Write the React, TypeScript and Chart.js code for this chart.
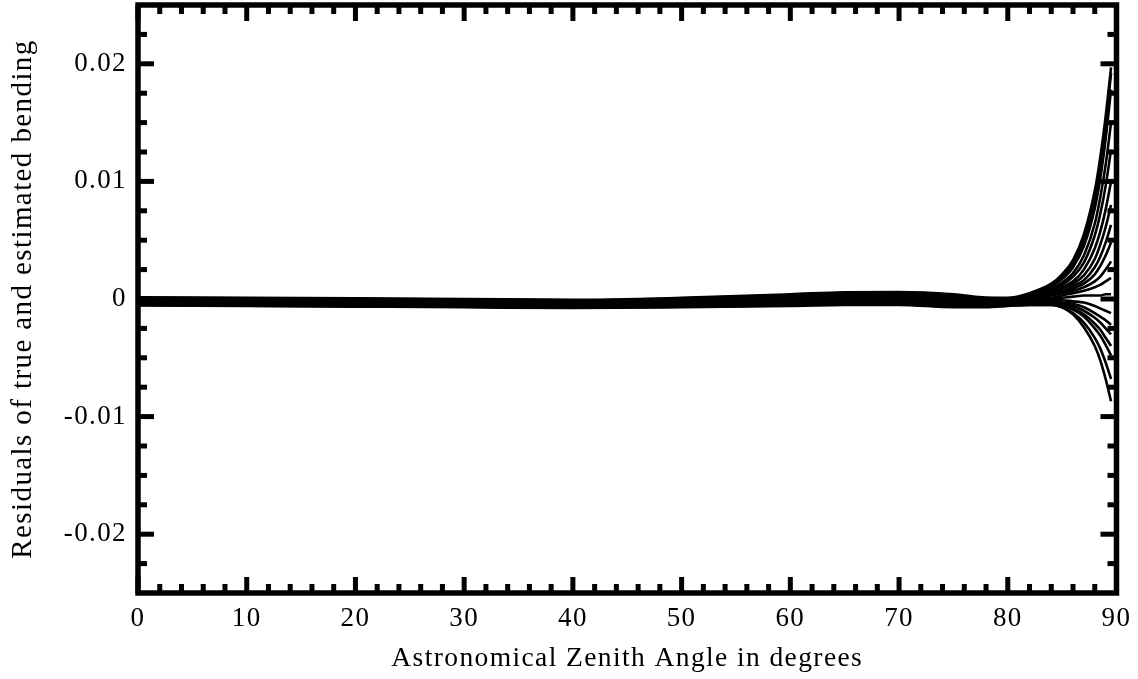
import { useEffect, useRef } from 'react';
import { Chart, registerables } from 'chart.js';

Chart.register(...registerables);

// Zenith angles (degrees) at which the residual curves are sampled
const ANGLES = [0, 10, 20, 30, 40, 50, 60, 65, 70, 75, 78, 80, 82, 84, 85, 86, 87, 88, 88.5, 89, 89.5];

// Residual curves (true minus estimated bending)
const S01 = [0.00015, 0.0001, 0.00005, 0, -0.00007, 0.0001, 0.0004, 0.00058, 0.0006, 0.0004, 0.00012, 0.0001, 0.0005, 0.0013, 0.0021, 0.0033, 0.0055, 0.0092, 0.012, 0.0155, 0.0197];
const S02 = [0.00011, 0.00006, 0.00001, -0.00004, -0.00011, 0.00006, 0.00034, 0.00052, 0.00054, 0.00034, 0.00007, 0.00006, 0.0004, 0.0012, 0.0019, 0.003, 0.005, 0.0085, 0.0112, 0.0148, 0.0192];
const S03 = [0.00007, 0.00002, -0.00003, -0.00008, -0.00015, 0.00001, 0.00029, 0.00046, 0.00048, 0.00028, 0.00002, 0.00002, 0.0004, 0.0011, 0.0017, 0.0027, 0.0045, 0.0077, 0.0102, 0.0136, 0.0178];
const S04 = [0.00003, -0.00002, -0.00007, -0.00012, -0.00019, -0.00003, 0.00023, 0.0004, 0.00042, 0.00022, -0.00003, -0.00002, 0.0003, 0.0009, 0.0014, 0.0022, 0.0037, 0.0064, 0.0086, 0.0114, 0.015];
const S05 = [-0.00001, -0.00006, -0.00011, -0.00016, -0.00023, -0.00008, 0.00018, 0.00034, 0.00036, 0.00016, -0.00007, -0.00006, 0.0003, 0.0008, 0.0012, 0.0019, 0.0031, 0.0054, 0.0072, 0.0096, 0.0127];
const S06 = [-0.00004, -0.00009, -0.00014, -0.00019, -0.00026, -0.00012, 0.00012, 0.00027, 0.00029, 0.00009, -0.00011, -0.00009, 0.0002, 0.0007, 0.001, 0.0015, 0.0025, 0.0043, 0.0057, 0.0076, 0.01];
const S07 = [-0.00008, -0.00013, -0.00018, -0.00023, -0.0003, -0.00017, 0.00007, 0.00021, 0.00023, 0.00003, -0.00015, -0.00013, 0.0002, 0.0006, 0.0009, 0.0013, 0.002, 0.0034, 0.0046, 0.0061, 0.008];
const S08 = [-0.00012, -0.00017, -0.00022, -0.00027, -0.00034, -0.00021, 0.00001, 0.00015, 0.00017, -0.00003, -0.00019, -0.00017, 0.0001, 0.0005, 0.0007, 0.0011, 0.0016, 0.0027, 0.0036, 0.0048, 0.0063];
const S09 = [-0.00016, -0.00021, -0.00026, -0.00031, -0.00038, -0.00026, -0.00004, 0.00009, 0.00011, -0.00009, -0.00023, -0.00021, 0.0001, 0.0004, 0.0006, 0.0009, 0.0013, 0.0021, 0.0028, 0.0037, 0.0048];
const S10 = [-0.0002, -0.00025, -0.0003, -0.00035, -0.00042, -0.0003, -0.0001, 0.00003, 0.00005, -0.00015, -0.00027, -0.00025, 0, 0.0003, 0.0005, 0.0007, 0.001, 0.0015, 0.0019, 0.0025, 0.0032];
const S11 = [-0.00024, -0.00029, -0.00034, -0.00039, -0.00046, -0.00034, -0.00016, -0.00003, -0.00001, -0.00021, -0.00031, -0.00029, -0.0001, 0.0001, 0.0003, 0.0005, 0.0007, 0.001, 0.0012, 0.0015, 0.0018];
const S12 = [-0.00028, -0.00033, -0.00038, -0.00043, -0.0005, -0.00039, -0.00021, -0.00009, -0.00007, -0.00027, -0.00035, -0.00033, -0.0002, 0, 0.0001, 0.0002, 0.0003, 0.0003, 0.0003, 0.0004, 0.0004];
const S13 = [-0.00032, -0.00037, -0.00042, -0.00047, -0.00054, -0.00043, -0.00027, -0.00015, -0.00013, -0.00033, -0.00039, -0.00037, -0.0003, -0.0001, -0.0001, -0.0002, -0.0003, -0.0006, -0.0008, -0.001, -0.0012];
const S14 = [-0.00036, -0.00041, -0.00046, -0.00051, -0.00058, -0.00048, -0.00032, -0.00021, -0.00019, -0.00039, -0.00043, -0.00041, -0.0003, -0.0002, -0.0003, -0.0004, -0.0007, -0.0012, -0.0015, -0.0018, -0.0022];
const S15 = [-0.0004, -0.00045, -0.0005, -0.00055, -0.00062, -0.00052, -0.00038, -0.00028, -0.00026, -0.00046, -0.00048, -0.00045, -0.0004, -0.0003, -0.0004, -0.0006, -0.001, -0.0016, -0.002, -0.0025, -0.003];
const S16 = [-0.00043, -0.00048, -0.00053, -0.00058, -0.00065, -0.00057, -0.00043, -0.00034, -0.00032, -0.00052, -0.00053, -0.00048, -0.0004, -0.0004, -0.0005, -0.0008, -0.0013, -0.0021, -0.0026, -0.0033, -0.004];
const S17 = [-0.00047, -0.00052, -0.00057, -0.00062, -0.00069, -0.00061, -0.00049, -0.0004, -0.00038, -0.00058, -0.00058, -0.00052, -0.0004, -0.0004, -0.0006, -0.0009, -0.0015, -0.0025, -0.0031, -0.0039, -0.0048];
const S18 = [-0.00051, -0.00056, -0.00061, -0.00066, -0.00073, -0.00066, -0.00054, -0.00046, -0.00044, -0.00064, -0.00064, -0.00056, -0.0005, -0.0005, -0.0007, -0.0012, -0.002, -0.0033, -0.0042, -0.0054, -0.0068];
const S19 = [-0.00055, -0.0006, -0.00065, -0.0007, -0.00077, -0.0007, -0.0006, -0.0005, -0.0005, -0.0007, -0.0007, -0.0006, -0.0005, -0.0005, -0.0007, -0.0013, -0.0024, -0.004, -0.0052, -0.0068, -0.0087];

const SERIES = [S01, S02, S03, S04, S05, S06, S07, S08, S09, S10, S11, S12, S13, S14, S15, S16, S17, S18, S19];

// Axes
const X_MIN = 0;
const X_MAX = 90;
const Y_MIN = -0.025;
const Y_MAX = 0.025;
const X_TICKS = [0, 10, 20, 30, 40, 50, 60, 70, 80, 90];
const X_MINOR = [2, 4, 6, 8, 12, 14, 16, 18, 22, 24, 26, 28, 32, 34, 36, 38, 42, 44, 46, 48, 52, 54, 56, 58, 62, 64, 66, 68, 72, 74, 76, 78, 82, 84, 86, 88];
const Y_TICKS = [0.02, 0.01, 0, -0.01, -0.02];
const Y_TICK_LABELS = ['0.02', '0.01', '0', '-0.01', '-0.02'];
const Y_MINOR = [0.0225, 0.0175, 0.015, 0.0125, 0.0075, 0.005, 0.0025, -0.0025, -0.005, -0.0075, -0.0125, -0.015, -0.0175, -0.0225];
const X_TITLE = 'Astronomical Zenith Angle in degrees';
const Y_TITLE = 'Residuals of true and estimated bending';

const FONT = "'Liberation Serif', 'Times New Roman', serif";
const FONT_SIZE = 27;
const LETTER_SPACING = '1.4px';

const spacingPlugin = {
  id: 'letterSpacing',
  beforeUpdate(chart: any) {
    chart.ctx.letterSpacing = LETTER_SPACING;
  },
  beforeDraw(chart: any) {
    chart.ctx.letterSpacing = LETTER_SPACING;
  },
};

const framePlugin = {
  id: 'frameTicks',
  afterDatasetsDraw(chart: any) {
    const { ctx, chartArea, scales } = chart;
    const { left, right, top, bottom } = chartArea;
    const xs = scales.x;
    const ys = scales.y;
    const TW = 5;
    const MAJ = 16;
    const MIN = 9;
    ctx.save();
    ctx.fillStyle = '#000';
    const xTick = (v: number, len: number) => {
      const px = xs.getPixelForValue(v);
      ctx.fillRect(px - TW / 2, bottom - len, TW, len);
      ctx.fillRect(px - TW / 2, top, TW, len);
    };
    const yTick = (v: number, len: number) => {
      const py = ys.getPixelForValue(v);
      ctx.fillRect(left, py - TW / 2, len, TW);
      ctx.fillRect(right - len, py - TW / 2, len, TW);
    };
    X_TICKS.forEach((v) => xTick(v, MAJ));
    X_MINOR.forEach((v) => xTick(v, MIN));
    Y_TICKS.forEach((v) => yTick(v, MAJ));
    Y_MINOR.forEach((v) => yTick(v, MIN));
    ctx.strokeStyle = '#000';
    ctx.lineWidth = 5.5;
    ctx.strokeRect(left, top, right - left, bottom - top);
    ctx.restore();
  },
};

export default function App() {
  const canvasRef = useRef<HTMLCanvasElement | null>(null);

  useEffect(() => {
    const canvas = canvasRef.current;
    if (!canvas) return;
    const datasets = SERIES.map((s) => ({
      data: ANGLES.map((a, i) => ({ x: a, y: s[i] })),
      borderColor: '#000',
      borderWidth: 2.6,
      pointRadius: 0,
      fill: false,
      cubicInterpolationMode: 'monotone' as const,
    }));
    const chart = new Chart(canvas, {
      type: 'line',
      data: { datasets },
      plugins: [spacingPlugin, framePlugin],
      options: {
        animation: false,
        responsive: false,
        maintainAspectRatio: false,
        layout: { padding: { top: 5, right: 21.5, bottom: 0, left: 0 } },
        plugins: { legend: { display: false }, tooltip: { enabled: false } },
        scales: {
          x: {
            type: 'linear',
            min: X_MIN,
            max: X_MAX,
            afterFit: (s: any) => {
              s.height = 86;
              s.paddingLeft = 0;
              s.paddingRight = 0;
            },
            afterBuildTicks: (s: any) => {
              s.ticks = X_TICKS.map((v) => ({ value: v }));
            },
            grid: { display: false, drawTicks: false },
            border: { display: false },
            ticks: {
              padding: 10,
              color: '#000',
              maxRotation: 0,
              autoSkip: false,
              font: { family: FONT, size: FONT_SIZE },
              callback: (v: any) => String(v),
            },
            title: {
              display: true,
              text: X_TITLE,
              color: '#000',
              font: { family: FONT, size: 27.5 },
              padding: { top: 0, bottom: 4 },
            },
          },
          y: {
            type: 'linear',
            min: Y_MIN,
            max: Y_MAX,
            afterFit: (s: any) => {
              s.width = 138;
              s.paddingTop = 0;
              s.paddingBottom = 0;
            },
            afterBuildTicks: (s: any) => {
              s.ticks = Y_TICKS.map((v) => ({ value: v }));
            },
            grid: { display: false, drawTicks: false },
            border: { display: false },
            ticks: {
              padding: 11,
              color: '#000',
              autoSkip: false,
              font: { family: FONT, size: FONT_SIZE },
              callback: (v: any) => {
                const i = Y_TICKS.indexOf(v);
                return i >= 0 ? Y_TICK_LABELS[i] : '';
              },
            },
            title: {
              display: true,
              text: Y_TITLE,
              color: '#000',
              font: { family: FONT, size: 29 },
              padding: { top: 6, bottom: 0 },
            },
          },
        },
      },
    });
    return () => chart.destroy();
  }, []);

  return (
    <div style={{ position: 'absolute', left: 0, top: 0, width: 1138, height: 679, background: '#fff' }}>
      <canvas ref={canvasRef} width={1138} height={679} style={{ display: 'block', width: 1138, height: 679 }} />
    </div>
  );
}
